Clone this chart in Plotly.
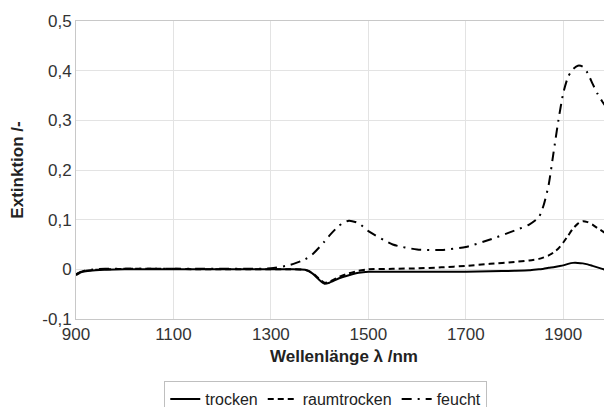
import plotly.graph_objects as go

wavelength = [900, 910, 920, 940, 960, 1000, 1050, 1100, 1150, 1200, 1250, 1300, 1340, 1370, 1385,
              1400, 1410, 1420, 1440, 1460, 1480, 1500, 1550, 1600, 1650, 1700, 1750, 1800, 1830,
              1850, 1860, 1870, 1880, 1890, 1900, 1910, 1920, 1930, 1940, 1950, 1960, 1970, 1980,
              1990, 2000]

trocken = [-0.012, -0.006, -0.004, -0.002, -0.001, 0.0, 0.0, 0.0, 0.0, 0.0, 0.0, 0.0, 0.0, -0.001, -0.008,
           -0.022, -0.029, -0.027, -0.018, -0.012, -0.007, -0.005, -0.005, -0.005, -0.005, -0.005, -0.004,
           -0.003, -0.002, 0.0, 0.001, 0.003, 0.004, 0.006, 0.008, 0.011, 0.013, 0.013, 0.012, 0.010,
           0.007, 0.004, 0.001, -0.002, -0.005]

raumtrocken = [-0.010, -0.005, -0.003, -0.001, 0.0, 0.001, 0.001, 0.001, 0.0, 0.0, 0.0, 0.0, 0.0, -0.001,
               -0.007, -0.020, -0.027, -0.025, -0.015, -0.008, -0.003, 0.0, 0.001, 0.002, 0.004, 0.007,
               0.011, 0.015, 0.018, 0.021, 0.024, 0.028, 0.034, 0.042, 0.054, 0.068, 0.082, 0.092, 0.097,
               0.095, 0.090, 0.083, 0.077, 0.070, 0.064]

feucht = [-0.010, -0.005, -0.002, 0.0, 0.001, 0.001, 0.001, 0.001, 0.001, 0.001, 0.001, 0.002, 0.009,
          0.020, 0.030, 0.045, 0.056, 0.068, 0.088, 0.098, 0.093, 0.077, 0.050, 0.040, 0.039, 0.045,
          0.060, 0.078, 0.090, 0.105, 0.130, 0.170, 0.235, 0.300, 0.355, 0.388, 0.403, 0.410, 0.408,
          0.395, 0.374, 0.354, 0.338, 0.325, 0.316]

x_ticks = [900, 1100, 1300, 1500, 1700, 1900]
y_ticks = [-0.1, 0, 0.1, 0.2, 0.3, 0.4, 0.5]
y_ticklabels = ["-0,1", "0", "0,1", "0,2", "0,3", "0,4", "0,5"]

FONT = "Liberation Sans, Arial, sans-serif"

fig = go.Figure()
fig.add_trace(go.Scatter(x=wavelength, y=trocken, name="trocken", mode="lines",
                         line=dict(color="black", width=2, dash="solid", shape="spline", smoothing=0.6)))
fig.add_trace(go.Scatter(x=wavelength, y=raumtrocken, name="raumtrocken", mode="lines",
                         line=dict(color="black", width=2, dash="6px,4px", shape="spline", smoothing=0.6)))
fig.add_trace(go.Scatter(x=wavelength, y=feucht, name="feucht", mode="lines",
                         line=dict(color="black", width=2, dash="10px,6px,2px,6px", shape="spline", smoothing=0.6)))

fig.update_layout(
    width=604, height=399,
    margin=dict(l=68, r=0, t=13, b=88, autoexpand=False),
    paper_bgcolor="white", plot_bgcolor="white",
    font=dict(family=FONT, size=17, color="#333333"),
    showlegend=True,
    legend=dict(orientation="h", x=0.466, xanchor="center", y=-0.208, yanchor="top",
                bordercolor="#bfbfbf", borderwidth=1, font=dict(size=16, color="#222222"),
                itemwidth=30, tracegroupgap=0, traceorder="normal"),
    xaxis=dict(range=[900, 2000], tickvals=x_ticks, showgrid=True, gridcolor="#e3e3e3", gridwidth=1,
               showline=True, linecolor="#c8c8c8", linewidth=1, mirror=True, zeroline=False,
               ticks="", tickfont=dict(size=17, color="#333333"), automargin=False,
               title=dict(text="<b>Wellenlänge λ /nm</b>", font=dict(size=17, color="#222222"), standoff=6)),
    yaxis=dict(range=[-0.1, 0.5], tickvals=y_ticks, ticktext=y_ticklabels, showgrid=True,
               gridcolor="#e3e3e3", gridwidth=1, showline=True, linecolor="#c8c8c8", linewidth=1,
               mirror=True, zeroline=False, ticks="", tickfont=dict(size=17, color="#333333"),
               automargin=False,
               title=dict(text="<b>Extinktion /-</b>", font=dict(size=17, color="#222222"), standoff=18)),
)

fig.write_html("out.html")
